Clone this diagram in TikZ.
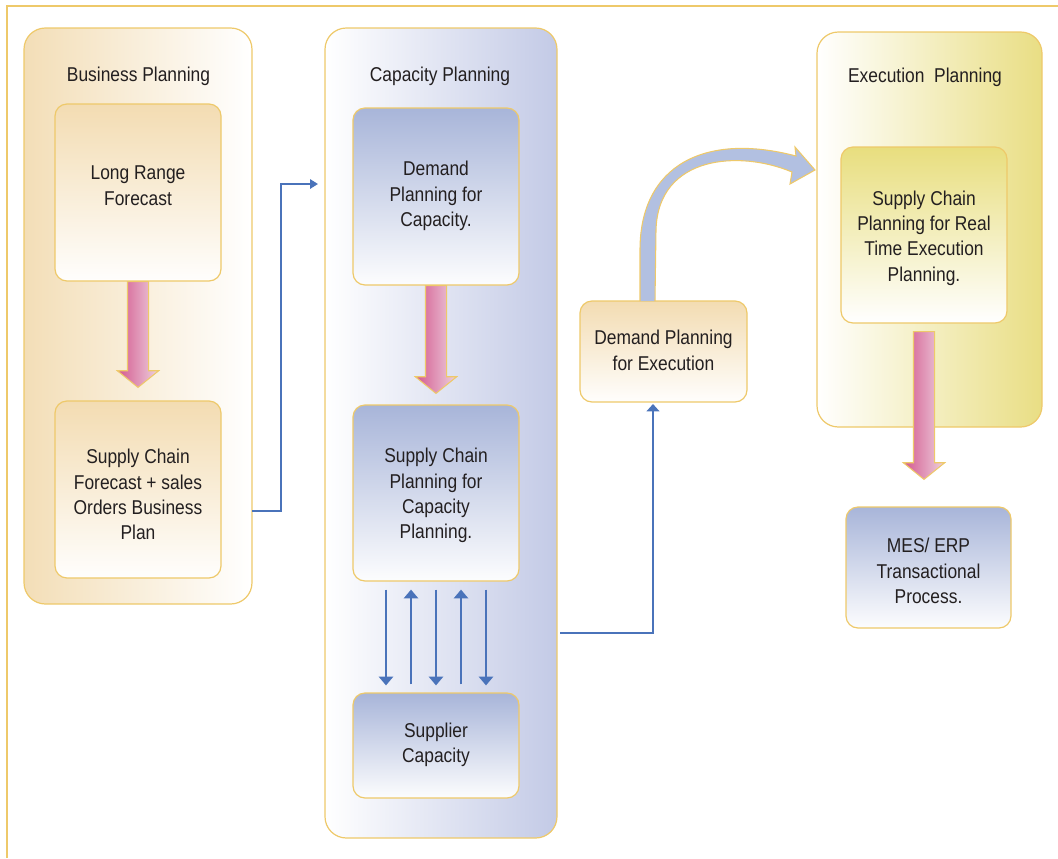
\documentclass[tikz,border=0pt]{standalone}
\usepackage{fontspec}
\setmainfont[FakeStretch=0.87]{Liberation Sans}
\usetikzlibrary{arrows.meta,calc}
\definecolor{tanline}{HTML}{EEC96A}
\definecolor{tanfill}{HTML}{F3DEB7}
\definecolor{tanbox}{HTML}{F3DCB2}
\definecolor{capblue}{HTML}{C3CAE6}
\definecolor{boxblue}{HTML}{A8B5D9}
\definecolor{execyel}{HTML}{E9DE84}
\definecolor{boxyel}{HTML}{E8DE7E}
\definecolor{pinkL}{HTML}{D4588F}
\definecolor{pinkR}{HTML}{EDD3DF}
\definecolor{connblue}{HTML}{4A73BA}
\definecolor{curveblue}{HTML}{B2C0E1}
\definecolor{txt}{HTML}{231F20}
\newcommand\pinkarrow[2]{%
  \path[draw=tanline, line width=0.8pt, left color=pinkL, right color=pinkR]
    let \p1=(#1), \p2=(#2) in
    (\x1-7.9pt,\y1) -- (\x1+7.9pt,\y1) -- (\x1+7.9pt,\y2+12.5pt) -- (\x1+15.5pt,\y2+12.5pt)
    -- (\x1,\y2) -- (\x1-15.5pt,\y2+12.5pt) -- (\x1-7.9pt,\y2+12.5pt) -- cycle;}
\newcommand\boxtext[2]{\raisebox{#1}[0pt][0pt]{\begin{tabular}{@{}c@{}}#2\end{tabular}}}
\begin{document}
\begin{tikzpicture}[x=0.75pt,y=-0.75pt,
  every node/.style={font=\fontsize{15}{19}\selectfont, text=txt},
  container/.style={draw=tanline, line width=0.9pt, rounded corners=16pt, inner sep=0pt},
  box/.style={draw=tanline, line width=0.9pt, rounded corners=9pt, inner sep=0pt,
    minimum width=124.5pt},
  bluebox/.style={box, top color=boxblue, bottom color=white!97!boxblue},
  tanboxst/.style={box, top color=tanbox, bottom color=white!97!tanbox},
  conn/.style={draw=connblue, line width=2.2pt},
  title/.style={inner sep=0pt}]
\useasboundingbox (0,0) rectangle (1058,858);
% outer frame
\draw[tanline, line width=1.1pt] (7,858) -- (7,6) -- (1058,6);
% containers
\node[container, minimum width=171pt, minimum height=432pt,
  left color=tanfill, middle color=tanfill!45!white, right color=white] (bp) at (138,316) {};
\node[container, minimum width=174pt, minimum height=607.5pt,
  left color=white, middle color=white, right color=capblue] (cp) at (441,433) {};
\node[container, minimum width=168.75pt, minimum height=296.25pt,
  left color=white, middle color=execyel!32!white, right color=execyel] (ep) at (929.5,229.5) {};
% titles
\node[title] (bpt) at (138.5,76) {Business Planning};
\node[title] (cpt) at (440,76) {Capacity Planning};
\node[title] (ept) at (925,77) {Execution~ Planning};
% boxes
\node[tanboxst, minimum height=132.75pt] (lrf) at (138,192.5) {\boxtext{0.3pt}{Long Range\\Forecast}};
\node[tanboxst, minimum height=132.75pt] (scf) at (138,489.5) {\boxtext{-9pt}{Supply Chain\\Forecast + sales\\Orders Business\\Plan}};
\node[bluebox, minimum height=132.75pt] (dpc) at (436,196.5) {\boxtext{-3.4pt}{Demand\\Planning for\\Capacity.}};
\node[bluebox, minimum height=132pt] (spc) at (436,493) {\boxtext{-5.7pt}{Supply Chain\\Planning for\\Capacity\\Planning.}};
\node[bluebox, minimum height=78.75pt] (sup) at (436,745.5) {\boxtext{-3pt}{Supplier\\Capacity}};
\node[tanboxst, minimum width=125.25pt, minimum height=75.75pt] (dpe) at (663.5,351.5) {\boxtext{-4.2pt}{Demand Planning\\for Execution}};
\node[box, minimum height=132pt, top color=boxyel, middle color=boxyel!22!white, bottom color=white] (scre) at (924,235) {\boxtext{-6pt}{Supply Chain\\Planning for Real\\Time Execution\\Planning.}};
\node[bluebox, minimum width=123.75pt, minimum height=90.75pt] (mes) at (928.5,567.5) {\boxtext{-7.9pt}{MES/ ERP\\Transactional\\Process.}};
% pink block arrows
\pinkarrow{lrf.south}{$(scf.north)+(0,-13)$}
\pinkarrow{dpc.south}{$(spc.north)+(0,-11)$}
\pinkarrow{$(scre.south)+(0,8)$}{$(mes.north)+(-5,-27)$}
% elbow connectors
\coordinate (e1s) at (252,511);
\coordinate (e1e) at (318,184);
\draw[conn, -{Triangle[width=7pt,length=6pt]}] (e1s) -- (281,511) |- (e1e);
\coordinate (e2s) at (560,633);
\coordinate (e2e) at (653,404);
\draw[conn, -{Triangle[width=9.5pt,length=5.5pt]}] (e2s) -| (e2e);
% vertical arrows between spc and sup
\tikzset{varr/.style={conn, -{Triangle[width=10.5pt,length=6.5pt]}}}
\draw[varr] ($(spc.south)+(-50,8)$) -- ($(sup.north)+(-50,-7)$);
\draw[varr] ($(sup.north)+(-25,-8)$) -- ($(spc.south)+(-25,8)$);
\draw[varr] ($(spc.south)+(0,8)$) -- ($(sup.north)+(0,-7)$);
\draw[varr] ($(sup.north)+(25,-8)$) -- ($(spc.south)+(25,8)$);
\draw[varr] ($(spc.south)+(50,8)$) -- ($(sup.north)+(50,-7)$);
% curved block arrow from dpe to ep
\filldraw[draw=tanline, fill=curveblue, line width=0.8pt]
  (640,301) -- (640,250) .. controls (640,165) and (705,132) .. (796,156)
  -- (795,147) -- (815,170) -- (790,184) -- (792,172)
  .. controls (740,150) and (658,155) .. (656,230) -- (655,301);
\end{tikzpicture}
\end{document}
